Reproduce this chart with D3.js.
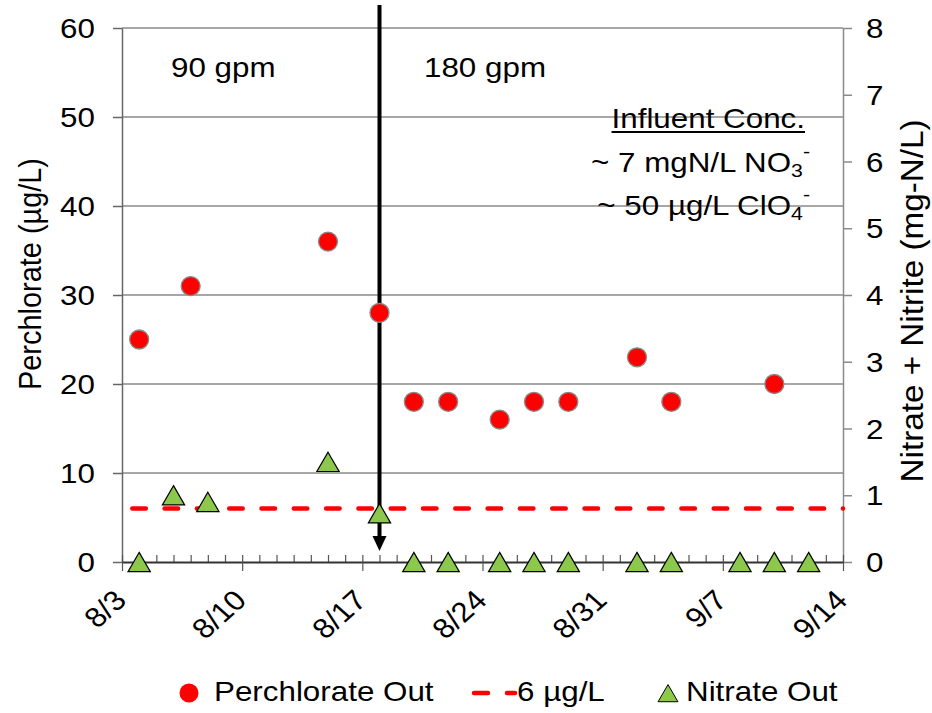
<!DOCTYPE html>
<html><head><meta charset="utf-8">
<script src="https://cdn.jsdelivr.net/npm/d3@7"></script>
<style>
body{margin:0;background:#fff}
text{font-family:"Liberation Sans",Arial,sans-serif;fill:#000}
</style>
</head><body>
<svg id="c" width="932" height="713"></svg>
<script>
// ---------- data ----------
const perchlorateDates = ["8/4","8/7","8/15","8/18","8/20","8/22","8/25","8/27","8/29","9/2","9/4","9/10"];
const perchlorateValues = [25,31,36,28,18,18,16,18,18,23,18,20];
const nitrateDates = ["8/4","8/6","8/8","8/15","8/18","8/20","8/22","8/25","8/27","8/29","9/2","9/4","9/8","9/10","9/12"];
const nitrateValues = [0,1.0,0.9,1.5,0.73,0,0,0,0,0,0,0,0,0,0];
const limitValue = 6;
const switchDate = "8/18";
const xTickLabels = ["8/3","8/10","8/17","8/24","8/31","9/7","9/14"];
const leftTicks = [0,10,20,30,40,50,60];
const rightTicks = [0,1,2,3,4,5,6,7,8];
const YEAR = 2009;
const parse = s => { const [m,d] = s.split("/").map(Number); return new Date(Date.UTC(YEAR, m-1, d)); };

// ---------- layout ----------
const L=122, R=843, T=28, B=562;
const FS=28, SX=1.12;
const svg = d3.select("#c");
const x = d3.scaleUtc().domain([parse(xTickLabels[0]), parse(xTickLabels[xTickLabels.length-1])]).range([L,R]);
const yL = d3.scaleLinear().domain([0,60]).range([B,T]);
const yR = d3.scaleLinear().domain([0,8]).range([B,T]);

function stext(g, tx, ty, str, anchor, size, rot){
  return g.append("text")
    .attr("transform", `translate(${tx},${ty}) scale(${SX},1)` + (rot ? ` rotate(${rot})` : ""))
    .attr("text-anchor", anchor).style("font-size", (size||FS)+"px").text(str);
}

// gridlines
svg.append("g").selectAll("line").data(leftTicks.filter(v=>v>0)).join("line")
  .attr("x1",L).attr("x2",R).attr("y1",d=>yL(d)).attr("y2",d=>yL(d))
  .attr("stroke","#8a8a8a").attr("stroke-width",1.5);

// left axis
const gl = svg.append("g").attr("transform",`translate(${L},0)`)
  .call(d3.axisLeft(yL).tickValues(leftTicks).tickSize(9).tickSizeOuter(0).tickFormat(""));
gl.selectAll("path,line").attr("stroke","#666").attr("stroke-width",1.5);
leftTicks.forEach(v => stext(svg, 95, yL(v)+10, String(v), "end"));

// right axis
const gr = svg.append("g").attr("transform",`translate(${R},0)`)
  .call(d3.axisRight(yR).tickValues(rightTicks).tickSize(9).tickSizeOuter(0).tickFormat(""));
gr.selectAll("path,line").attr("stroke","#8a8a8a").attr("stroke-width",1.5);
rightTicks.forEach(v => stext(svg, 866, yR(v)+10, String(v), "start"));

// x axis
const days = d3.utcDay.range(x.domain()[0], d3.utcDay.offset(x.domain()[1],1));
const gxm = svg.append("g").attr("transform",`translate(0,${B})`)
  .call(d3.axisBottom(x).tickValues(days).tickSize(-7).tickSizeOuter(0).tickFormat(""));
gxm.selectAll("line").attr("stroke","#555").attr("stroke-width",1.2);
gxm.select("path").remove();
const gx = svg.append("g").attr("transform",`translate(0,${B})`)
  .call(d3.axisBottom(x).tickValues(xTickLabels.map(parse)).tickSize(9).tickSizeOuter(0).tickFormat(""));
gx.selectAll("line").attr("stroke","#555").attr("stroke-width",1.2);
gx.select("path").attr("stroke","#333").attr("stroke-width",2);
xTickLabels.forEach(s => stext(svg, x(parse(s))+6, 602, s, "end", FS, -45));

// axis titles
svg.append("text").attr("transform",`translate(41,274) scale(${SX},1) rotate(-90)`)
  .attr("text-anchor","middle").style("font-size",FS+"px")
  .attr("textLength",232).attr("lengthAdjust","spacingAndGlyphs").text("Perchlorate (µg/L)");
svg.append("text").attr("transform",`translate(923,301) scale(${SX},1) rotate(-90)`)
  .attr("text-anchor","middle").style("font-size",FS+"px")
  .attr("textLength",363).attr("lengthAdjust","spacingAndGlyphs").text("Nitrate + Nitrite (mg-N/L)");

// limit line
svg.append("line").attr("x1",L).attr("x2",R).attr("y1",yL(limitValue)).attr("y2",yL(limitValue))
  .attr("stroke","#ff0000").attr("stroke-width",4.5).attr("stroke-linecap","round")
  .attr("stroke-dasharray","13.5,18.8").attr("stroke-dashoffset",22);

// arrow
const ax = x(parse(switchDate));
svg.append("line").attr("x1",ax).attr("x2",ax).attr("y1",5).attr("y2",540)
  .attr("stroke","#000").attr("stroke-width",4);
svg.append("path").attr("d",`M${ax-7},536L${ax+7},536L${ax},551Z`).attr("fill","#000");

// perchlorate circles
svg.append("g").selectAll("circle").data(perchlorateDates.map((d,i)=>({d:parse(d),v:perchlorateValues[i]}))).join("circle")
  .attr("cx",d=>x(d.d)).attr("cy",d=>yL(d.v)).attr("r",9.5)
  .attr("fill","#ff0000").attr("stroke","#8a8a8a").attr("stroke-width",1.3);

// nitrate triangles (bbox-centred like the source)
const triSize = 215;
const triY = Math.sqrt(triSize/(Math.sqrt(3)*3));
const tri = d3.symbol(d3.symbolTriangle, triSize);
svg.append("g").selectAll("path").data(nitrateDates.map((d,i)=>({d:parse(d),v:nitrateValues[i]}))).join("path")
  .attr("d",tri).attr("transform",d=>`translate(${x(d.d)},${yR(d.v)+triY/2})`)
  .attr("fill","#8cc84b").attr("stroke","#000").attr("stroke-width",1.2);

// annotations
stext(svg, 171, 77, "90 gpm", "start");
stext(svg, 424, 77, "180 gpm", "start");
const inf = stext(svg, 805, 128, "Influent Conc.", "end");
const infW = inf.node().getComputedTextLength()*SX;
svg.append("line").attr("x1",805-infW).attr("x2",805).attr("y1",132).attr("y2",132).attr("stroke","#000").attr("stroke-width",2);

function chem(tx, ty, main, sub){
  const t = svg.append("text").attr("transform",`translate(${tx},${ty}) scale(${SX},1)`)
    .attr("text-anchor","end").style("font-size",FS+"px");
  t.append("tspan").text(main);
  t.append("tspan").attr("dy",5).style("font-size","19px").text(sub);
  t.append("tspan").attr("dy",-19).style("font-size","19px").text("-");
}
chem(810, 172, "~ 7 mgN/L NO", "3");
chem(810, 215, "~ 50 µg/L ClO", "4");

// legend
const LY = 693;
svg.append("circle").attr("cx",189).attr("cy",LY).attr("r",9.5).attr("fill","#ff0000");
stext(svg, 214, 701, "Perchlorate Out", "start");
[[474,488],[507,515]].forEach(([a,b]) => svg.append("line").attr("x1",a).attr("x2",b).attr("y1",LY).attr("y2",LY)
  .attr("stroke","#ff0000").attr("stroke-width",4.5).attr("stroke-linecap","round"));
stext(svg, 517, 701, "6 µg/L", "start");
svg.append("path").attr("d",d3.symbol(d3.symbolTriangle,170)).attr("transform",`translate(668,${LY+3})`)
  .attr("fill","#8cc84b").attr("stroke","#000").attr("stroke-width",1);
stext(svg, 686, 701, "Nitrate Out", "start");
</script>
</body></html>
